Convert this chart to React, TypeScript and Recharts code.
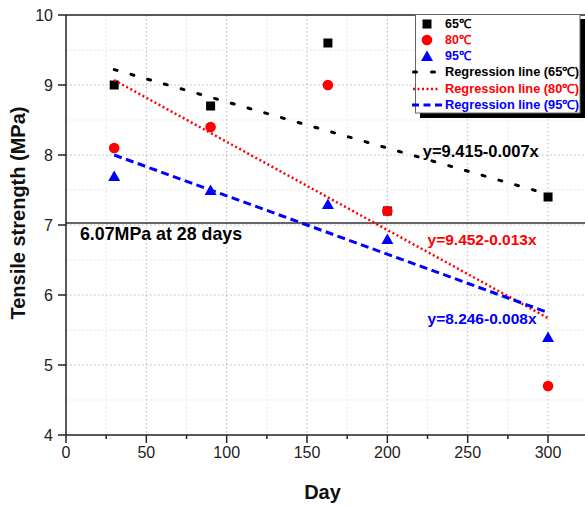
import React from 'react';
import { ScatterChart, Scatter, XAxis, YAxis, CartesianGrid, ReferenceLine, Label } from 'recharts';

// ---- data ----
const days = [30, 90, 163, 200, 300];
const strength65 = [9.0, 8.7, 9.6, 7.2, 7.4];
const strength80 = [8.1, 8.4, 9.0, 7.2, 4.7];
const strength95 = [7.7, 7.5, 7.3, 6.8, 5.4];

const regDays = [30, 300];
const reg65 = [9.22, 7.44];
const reg80 = [9.07, 5.67];
const reg95 = [8.0, 5.75];

const xTicks = [0, 25, 50, 75, 100, 125, 150, 175, 200, 225, 250, 275, 300];
const yTicks = [4, 5, 6, 7, 8, 9, 10];
const xMajorGrid = [50, 100, 150, 200, 250, 300];
const xMinorGrid = [25, 75, 125, 175, 225, 275];
const yMajorGrid = [5, 6, 7, 8, 9];
const yMinorGrid = [4.5, 5.5, 6.5, 7.5, 8.5, 9.5];

const refLevel = 7.03;

const annotationTexts = ['y=9.415-0.007x', 'y=9.452-0.013x', 'y=8.246-0.008x', '6.07MPa at 28 days'];
const annotationX = [222, 225, 225, 8.7];
const annotationY = [8.06, 6.79, 5.67, 6.87];
const annotationColors = ['#000000', '#ff0000', '#0000ff', '#000000'];
const annotationSizes = [16.5, 15.5, 15.5, 17.8];

const legendLabels = ['65℃', '80℃', '95℃', 'Regression line (65℃)', 'Regression line (80℃)', 'Regression line (95℃)'];

const FONT = '"Liberation Sans", Arial, Helvetica, sans-serif';
const BLACK = '#000000';
const RED = '#ff0000';
const BLUE = '#0000ff';

const zip = (xs: number[], ys: number[]) => xs.map((x, i) => ({ x, y: ys[i] }));
const d65 = zip(days, strength65);
const d80 = zip(days, strength80);
const d95 = zip(days, strength95);
const r65 = zip(regDays, reg65);
const r80 = zip(regDays, reg80);
const r95 = zip(regDays, reg95);
const annotations = annotationTexts.map((text, i) => ({
  x: annotationX[i],
  y: annotationY[i],
  text,
  color: annotationColors[i],
  size: annotationSizes[i],
}));

const SquareShape = (p: any) => (
  <rect x={p.cx - 4.5} y={p.cy - 4.5} width={9} height={9} fill={BLACK} />
);
const CircleShape = (p: any) => <circle cx={p.cx} cy={p.cy} r={5.3} fill={RED} />;
const TriangleShape = (p: any) => (
  <polygon
    points={`${p.cx},${p.cy - 5.5} ${p.cx + 6},${p.cy + 5} ${p.cx - 6},${p.cy + 5}`}
    fill={BLUE}
  />
);
const NoShape = () => <g />;
const TextShape = (p: any) => (
  <text
    x={p.cx}
    y={p.cy}
    dominantBaseline="central"
    fontFamily={FONT}
    fontWeight="bold"
    fontSize={p.payload.size}
    fill={p.payload.color}
  >
    {p.payload.text}
  </text>
);

const XTick = (props: any) => {
  const { x, y, payload } = props;
  const v = payload.value;
  const major = v % 50 === 0;
  return (
    <g>
      <line x1={x} x2={x} y1={y} y2={y + (major ? 8 : 4)} stroke="#222" strokeWidth={1.5} />
      {major && (
        <text x={x} y={y + 23} textAnchor="middle" fontSize={16} fill="#222" fontFamily={FONT}>
          {v}
        </text>
      )}
    </g>
  );
};

const YTick = (props: any) => {
  const { x, y, payload } = props;
  return (
    <g>
      <line x1={x - 8} x2={x} y1={y} y2={y} stroke="#222" strokeWidth={1.5} />
      <text x={x - 13} y={y + 5.6} textAnchor="end" fontSize={16} fill="#222" fontFamily={FONT}>
        {payload.value}
      </text>
    </g>
  );
};

const XTitle = (props: any) => {
  const vb = props.viewBox;
  return (
    <text
      x={vb.x + vb.width / 2 - 3}
      y={vb.y + 64}
      textAnchor="middle"
      fontSize={20}
      fontWeight="bold"
      fill="#111"
      fontFamily={FONT}
    >
      Day
    </text>
  );
};

const YTitle = (props: any) => {
  const vb = props.viewBox;
  const cx = vb.x + 10;
  const cy = vb.y + vb.height / 2 - 12;
  return (
    <text
      x={cx}
      y={cy}
      transform={`rotate(-90, ${cx}, ${cy})`}
      textAnchor="middle"
      dominantBaseline="central"
      fontSize={20}
      fontWeight="bold"
      fill="#111"
      fontFamily={FONT}
    >
      Tensile strength (MPa)
    </text>
  );
};

const LegendBox = () => {
  const rows = [10, 26, 42, 58, 75, 91];
  const colors = [BLACK, RED, BLUE, BLACK, RED, BLUE];
  const mx = 15;
  return (
    <svg
      width={173}
      height={106}
      style={{ position: 'absolute', left: 412, top: 14 }}
    >
      <rect x={8} y={5} width={165} height={99} fill="#000" />
      <rect x={3.5} y={0.5} width={164.5} height={98.5} fill="#fff" stroke="#666" strokeWidth={1} />
      <rect x={mx - 4.5} y={rows[0] - 4.5} width={9} height={9} fill={BLACK} />
      <circle cx={mx} cy={rows[1]} r={5.3} fill={RED} />
      <polygon
        points={`${mx},${rows[2] - 5.5} ${mx + 6},${rows[2] + 5} ${mx - 6},${rows[2] + 5}`}
        fill={BLUE}
      />
      <line x1={1.5} x2={28} y1={rows[3]} y2={rows[3]} stroke={BLACK} strokeWidth={3} strokeDasharray="3 15" strokeLinecap="round" />
      <line x1={1} x2={28} y1={rows[4]} y2={rows[4]} stroke={RED} strokeWidth={2.5} strokeDasharray="2 2.5" />
      <line x1={0} x2={30} y1={rows[5]} y2={rows[5]} stroke={BLUE} strokeWidth={3} strokeDasharray="7 4.5" />
      {legendLabels.map((t, i) => (
        <text
          key={t}
          x={33}
          y={rows[i] + 4.4}
          fontSize={12.4}
          fontWeight="bold"
          fill={colors[i]}
          fontFamily={FONT}
          textLength={i >= 3 ? 134 : undefined}
          lengthAdjust="spacingAndGlyphs"
        >
          {t}
        </text>
      ))}
    </svg>
  );
};

export default function App() {
  return (
    <div
      style={{
        position: 'fixed',
        left: 0,
        top: 0,
        width: 585,
        height: 507,
        overflow: 'hidden',
        background: '#fff',
      }}
    >
      <div style={{ position: 'absolute', left: 8, top: 8 }}>
        <ScatterChart width={577} height={499} margin={{ top: 7, right: 0, bottom: 0, left: 0 }}>
          <CartesianGrid
            horizontalValues={yMinorGrid}
            verticalValues={xMinorGrid}
            stroke="#e2e2e2"
            strokeDasharray="1.5 2.5"
          />
          <CartesianGrid
            horizontalValues={yMajorGrid}
            verticalValues={xMajorGrid}
            stroke="#b8b8b8"
            strokeDasharray="1.5 2.5"
          />
          <XAxis
            type="number"
            dataKey="x"
            domain={[0, 323]}
            ticks={xTicks}
            allowDataOverflow
            height={72}
            tickSize={0}
            tickMargin={0}
            tickLine={false}
            tick={<XTick />}
            axisLine={{ stroke: '#222', strokeWidth: 1.5 }}
            interval={0}
          >
            <Label content={<XTitle />} />
          </XAxis>
          <YAxis
            type="number"
            dataKey="y"
            domain={[4, 10]}
            ticks={yTicks}
            allowDataOverflow
            width={58}
            tickSize={0}
            tickMargin={0}
            tickLine={false}
            tick={<YTick />}
            axisLine={{ stroke: '#222', strokeWidth: 1.5 }}
            interval={0}
          >
            <Label content={<YTitle />} />
          </YAxis>
          <ReferenceLine y={10} stroke="#222" strokeWidth={1.5} />
          <ReferenceLine y={refLevel} stroke="#333" strokeWidth={1.5} />
          <Scatter data={d65} shape={<SquareShape />} isAnimationActive={false} />
          <Scatter data={d80} shape={<CircleShape />} isAnimationActive={false} />
          <Scatter data={d95} shape={<TriangleShape />} isAnimationActive={false} />
          <Scatter
            data={r65}
            shape={<NoShape />}
            line={{ stroke: BLACK, strokeWidth: 3, strokeDasharray: '3 14.4', strokeLinecap: 'round' }}
            isAnimationActive={false}
          />
          <Scatter
            data={r80}
            shape={<NoShape />}
            line={{ stroke: RED, strokeWidth: 2.5, strokeDasharray: '2 2.6' }}
            isAnimationActive={false}
          />
          <Scatter
            data={r95}
            shape={<NoShape />}
            line={{ stroke: BLUE, strokeWidth: 3, strokeDasharray: '8 4.5' }}
            isAnimationActive={false}
          />
          <Scatter data={annotations} shape={<TextShape />} isAnimationActive={false} />
        </ScatterChart>
      </div>
      <LegendBox />
    </div>
  );
}
